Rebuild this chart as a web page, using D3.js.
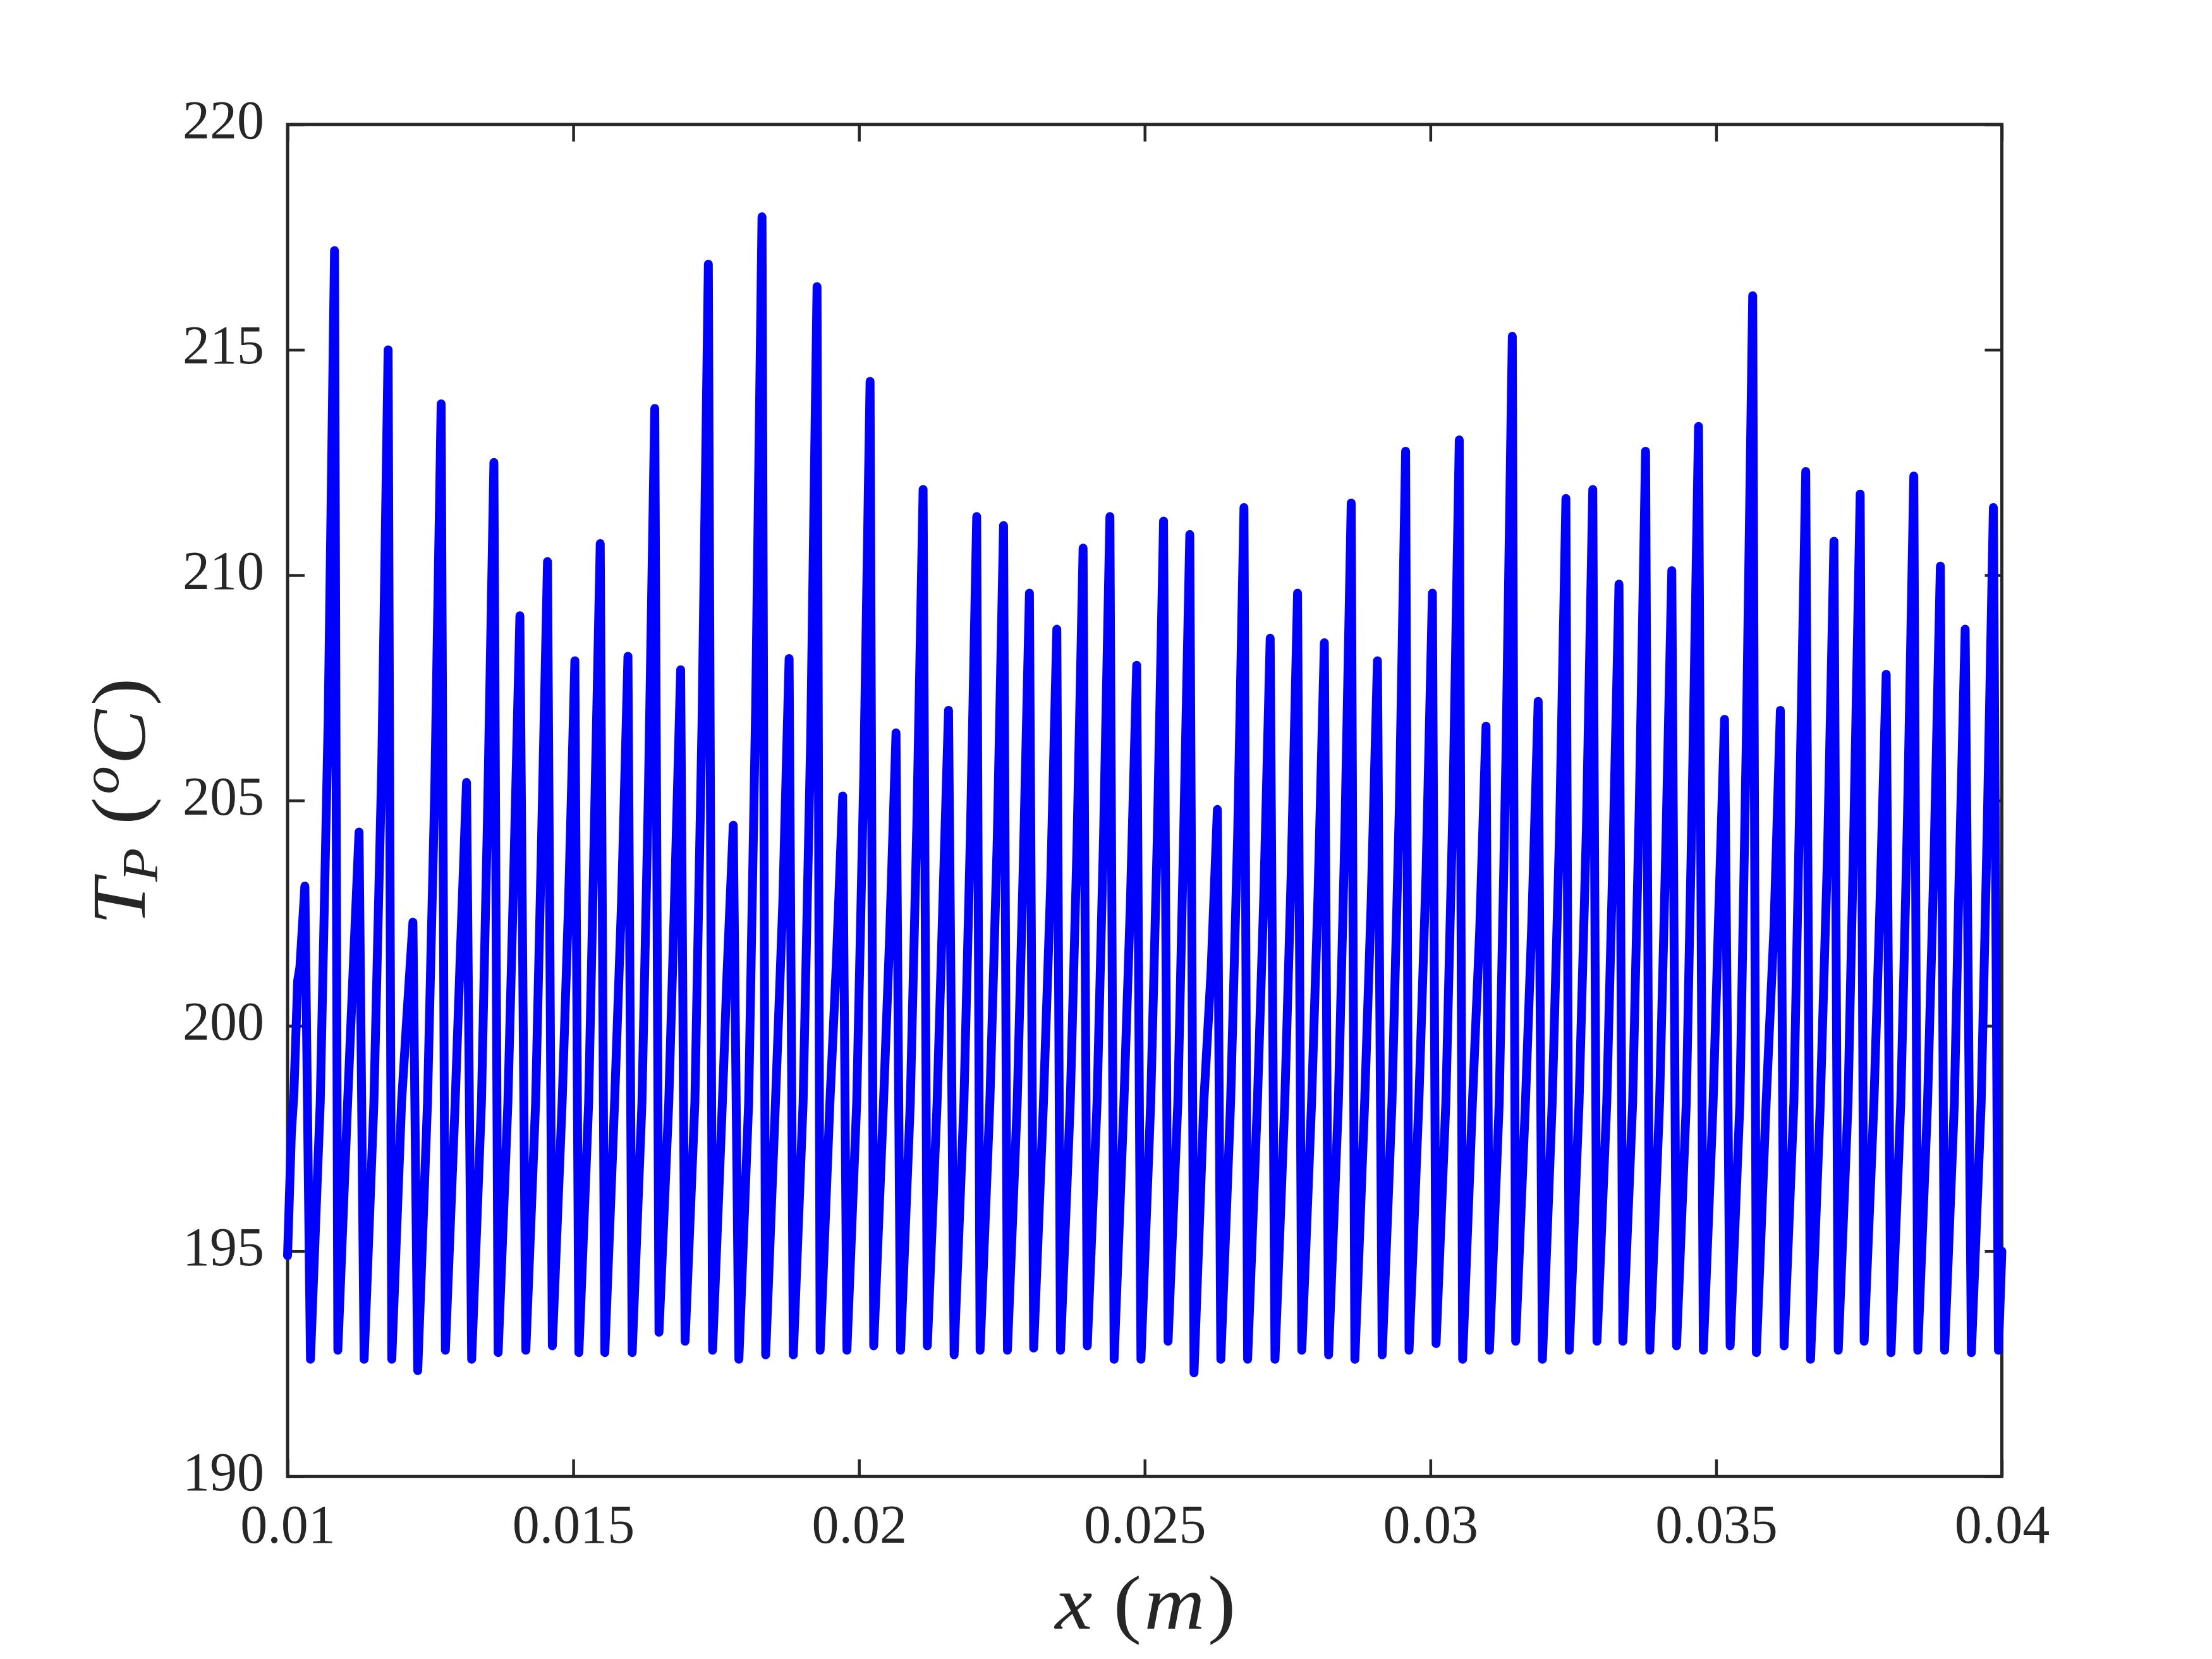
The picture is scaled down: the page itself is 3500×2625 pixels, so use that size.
<!DOCTYPE html>
<html>
<head>
<meta charset="utf-8">
<script src="https://cdn.jsdelivr.net/npm/d3@7"></script>
<style>
html,body{margin:0;padding:0;background:#fff;}
svg{display:block;}
</style>
</head>
<body>
<script>
// ---- data (x in m, T_P in degC) ----
const startX = [0.01, 0.010066, 0.010111, 0.010177, 0.010216];
const startT = [194.9, 197.6, 198.5, 201.0, 201.3];

const peakX = [0.010303,0.010822,0.011251,0.011760,0.012194,0.012688,0.013132,0.013611,0.014066,0.014549,0.015028,0.015472,0.015957,0.016426,0.016879,0.017364,
0.017800,0.018303,0.018777,0.019266,0.019715,0.020194,0.020648,0.021122,0.021567,0.022060,0.022530,0.022983,0.023462,0.023922,0.024391,0.024860,
0.025330,0.025789,0.026272,0.026737,0.027196,0.027675,0.028144,0.028614,0.029073,0.029566,0.030035,0.030505,0.030973,0.031433,0.031886,0.032371,
0.032841,0.033300,0.033765,0.034224,0.034692,0.035147,0.035640,0.036124,0.036568,0.037062,0.037521,0.037976,0.038459,0.038924,0.039358,0.039852];
const peakT = [203.1,217.2,204.3,215.0,202.3,213.8,205.4,212.5,209.1,210.3,208.1,210.7,208.2,213.7,207.9,216.9,
204.45,217.95,208.15,216.4,205.1,214.3,206.5,211.9,207.0,211.3,211.1,209.6,208.8,210.6,211.3,208.0,
211.2,210.9,204.8,211.5,208.6,209.6,208.5,211.6,208.1,212.75,209.6,213.0,206.65,215.3,207.2,211.7,
211.9,209.8,212.75,210.1,213.3,206.8,216.2,207.0,212.3,210.75,211.8,207.8,212.2,210.2,208.8,211.5];

const troughX = [0.010401,0.010880,0.011340,0.011824,0.012278,0.012762,0.013222,0.013685,0.014170,0.014634,0.015098,0.015552,0.016031,0.016500,0.016957,0.017438,
0.017898,0.018367,0.018851,0.019320,0.019789,0.020258,0.020727,0.021196,0.021665,0.022119,0.022598,0.023057,0.023526,0.023995,0.024465,0.024934,
0.025409,0.025863,0.026332,0.026801,0.027280,0.027749,0.028218,0.028678,0.029156,0.029626,0.030099,0.030564,0.031033,0.031492,0.031960,0.032430,
0.032915,0.033368,0.033839,0.034307,0.034776,0.035245,0.035704,0.036189,0.036652,0.037137,0.037590,0.038060,0.038529,0.038998,0.039467,0.039940];
const troughT = [192.6,192.8,192.6,192.6,192.35,192.8,192.6,192.75,192.8,192.9,192.75,192.75,192.75,193.2,193.0,192.8,
192.6,192.7,192.7,192.8,192.8,192.9,192.8,192.9,192.7,192.8,192.8,192.85,192.8,192.9,192.6,192.6,
193.0,192.3,192.6,192.6,192.6,192.8,192.7,192.6,192.7,192.8,192.95,192.6,192.8,193.0,192.6,192.8,
193.0,193.0,192.8,192.9,192.8,192.9,192.75,192.9,192.6,192.8,193.0,192.75,192.8,192.8,192.75,192.8];

// knee (~198.3) and shoulder points on each rising flank (cycles 2..64)
const kneeX = [0.010572,0.011051,0.011511,0.011995,0.012449,0.012933,0.013393,0.013856,0.014341,0.014805,0.015269,0.015723,0.016202,0.016671,0.017128,0.017609,
0.018069,0.018538,0.019022,0.019491,0.019960,0.020429,0.020898,0.021367,0.021836,0.022290,0.022769,0.023228,0.023697,0.024166,0.024636,0.025105,
0.025580,0.026034,0.026503,0.026972,0.027451,0.027920,0.028389,0.028849,0.029327,0.029797,0.030270,0.030735,0.031204,0.031663,0.032131,0.032601,
0.033086,0.033539,0.034010,0.034478,0.034947,0.035416,0.035875,0.036360,0.036823,0.037308,0.037761,0.038231,0.038700,0.039169,0.039638];
const kneeT = [198.3,198.3,198.3,198.3,198.3,198.3,198.3,198.3,198.3,198.3,198.3,198.3,198.3,198.3,198.3,198.3,
198.3,198.3,198.3,198.3,198.3,198.3,198.3,198.3,198.3,198.3,198.3,198.3,198.3,198.3,198.3,198.3,
198.3,198.3,198.3,198.3,198.3,198.3,198.3,198.3,198.3,198.3,198.3,198.3,198.3,198.3,198.3,198.3,
198.3,198.3,198.3,198.3,198.3,198.3,198.3,198.3,198.3,198.3,198.3,198.3,198.3,198.3,198.3];
const shoulderX = [0.010711,0.011140,0.011649,0.012083,0.012577,0.013021,0.013500,0.013955,0.014438,0.014917,0.015361,0.015846,0.016315,0.016768,0.017253,0.017689,
0.018192,0.018666,0.019155,0.019604,0.020083,0.020537,0.021011,0.021456,0.021949,0.022419,0.022872,0.023351,0.023811,0.024280,0.024749,0.025219,
0.025678,0.026161,0.026626,0.027085,0.027564,0.028033,0.028503,0.028962,0.029455,0.029924,0.030394,0.030862,0.031322,0.031775,0.032260,0.032730,
0.033189,0.033654,0.034113,0.034581,0.035036,0.035529,0.036013,0.036457,0.036951,0.037410,0.037865,0.038348,0.038813,0.039247,0.039741];
const shoulderT = [206.8,201.0,205.8,200.1,205.3,201.5,204.7,203.2,203.7,202.7,203.9,202.8,205.2,202.6,206.7,201.1,
207.1,202.7,206.4,201.4,205.5,202.0,204.4,202.2,204.2,204.1,203.4,203.0,203.8,204.2,202.7,204.1,
204.0,201.2,204.2,202.9,203.4,202.9,204.3,202.7,204.8,203.4,204.9,202.1,206.0,202.3,204.3,204.4,
203.5,204.8,203.6,205.0,202.1,206.4,202.2,204.6,203.9,204.4,202.6,204.6,203.7,203.0,204.2];

const endX = 0.04, endT = 195.0;

const xTicks = [0.01,0.015,0.02,0.025,0.03,0.035,0.04];
const xTickLabels = ["0.01","0.015","0.02","0.025","0.03","0.035","0.04"];
const yTicks = [190,195,200,205,210,215,220];
const yTickLabels = ["190","195","200","205","210","215","220"];

// ---- layout ----
const W = 3500, H = 2625;
const L = 455, R = 3167.5, T = 196.9, B = 2336.25;
const axisColor = "#262626";
const fontFam = "'Liberation Serif','Times New Roman',serif";

const svg = d3.select("body").append("svg").attr("width", W).attr("height", H);
svg.append("rect").attr("width", W).attr("height", H).attr("fill", "#fff");

const x = d3.scaleLinear().domain([0.01, 0.04]).range([L, R]);
const y = d3.scaleLinear().domain([190, 220]).range([B, T]);

function styleAxis(g, fs) {
  g.attr("font-family", fontFam).attr("font-size", fs);
  g.select(".domain").remove();
  g.selectAll(".tick line").attr("stroke", axisColor).attr("stroke-width", 4.5);
  g.selectAll(".tick text").attr("fill", axisColor);
}

const gB = svg.append("g").attr("transform", `translate(0,${B})`)
  .call(d3.axisBottom(x).tickValues(xTicks).tickFormat((d,i)=>xTickLabels[i]).tickSizeInner(-27).tickSizeOuter(0).tickPadding(44));
styleAxis(gB, 86);
const gT = svg.append("g").attr("transform", `translate(0,${T})`)
  .call(d3.axisTop(x).tickValues(xTicks).tickFormat("").tickSizeInner(-27).tickSizeOuter(0));
styleAxis(gT, 86);
const gL = svg.append("g").attr("transform", `translate(${L},0)`)
  .call(d3.axisLeft(y).tickValues(yTicks).tickFormat((d,i)=>yTickLabels[i]).tickSizeInner(-27).tickSizeOuter(0).tickPadding(37));
styleAxis(gL, 86);
gL.selectAll(".tick text").attr("dy", "0.25em");
const gR = svg.append("g").attr("transform", `translate(${R},0)`)
  .call(d3.axisRight(y).tickValues(yTicks).tickFormat("").tickSizeInner(-27).tickSizeOuter(0));
styleAxis(gR, 86);

svg.append("rect").attr("x", L).attr("y", T).attr("width", R - L).attr("height", B - T)
  .attr("fill", "none").attr("stroke", axisColor).attr("stroke-width", 5);

// ---- series ----
const pts = startX.map((v, i) => [v, startT[i]]);
for (let i = 0; i < peakX.length; i++) {
  pts.push([peakX[i], peakT[i]]);
  pts.push([troughX[i], troughT[i]]);
  if (i < kneeX.length) {
    pts.push([kneeX[i], kneeT[i]]);
    pts.push([shoulderX[i], shoulderT[i]]);
  }
}
pts.push([endX, endT]);

const line = d3.line().x(d => x(d[0])).y(d => y(d[1]));
svg.append("path").datum(pts).attr("d", line)
  .attr("fill", "none").attr("stroke", "#0000ff").attr("stroke-width", 14)
  .attr("stroke-linejoin", "round").attr("stroke-linecap", "round");

// ---- axis labels ----
function fitWidth(sel, cx, cy, target, rotate) {
  const bb = sel.node().getBBox();
  const s = target / bb.width;
  const ox = bb.x + bb.width / 2;
  sel.attr("transform",
    `translate(${cx},${cy})` + (rotate ? " rotate(-90)" : "") + ` scale(${s},1) translate(${-ox},0)`);
}

const xl = svg.append("text").attr("x", 0).attr("y", 0)
  .attr("font-family", fontFam).attr("font-size", 120).attr("fill", axisColor);
xl.append("tspan").attr("font-style", "italic").text("x");
xl.append("tspan").attr("dx", 30).text("(");
xl.append("tspan").attr("font-style", "italic").attr("dx", 4).text("m");
xl.append("tspan").attr("dx", 4).text(")");
fitWidth(xl, (L + R) / 2, 2577, 288, false);

const yl = svg.append("text").attr("x", 0).attr("y", 0)
  .attr("font-family", fontFam).attr("font-size", 120).attr("fill", axisColor);
yl.append("tspan").attr("font-style", "italic").text("T");
yl.append("tspan").attr("font-style", "italic").attr("font-size", 80).attr("dy", 20).attr("dx", -4).text("P");
yl.append("tspan").attr("dy", -20).attr("dx", 34).text("(");
yl.append("tspan").attr("font-style", "italic").attr("font-size", 82).attr("dy", -42).attr("dx", 4).text("o");
yl.append("tspan").attr("font-style", "italic").attr("dy", 42).attr("dx", 2).text("C");
yl.append("tspan").attr("dx", 6).text(")");
fitWidth(yl, 229, 1268, 391, true);
</script>
</body>
</html>
